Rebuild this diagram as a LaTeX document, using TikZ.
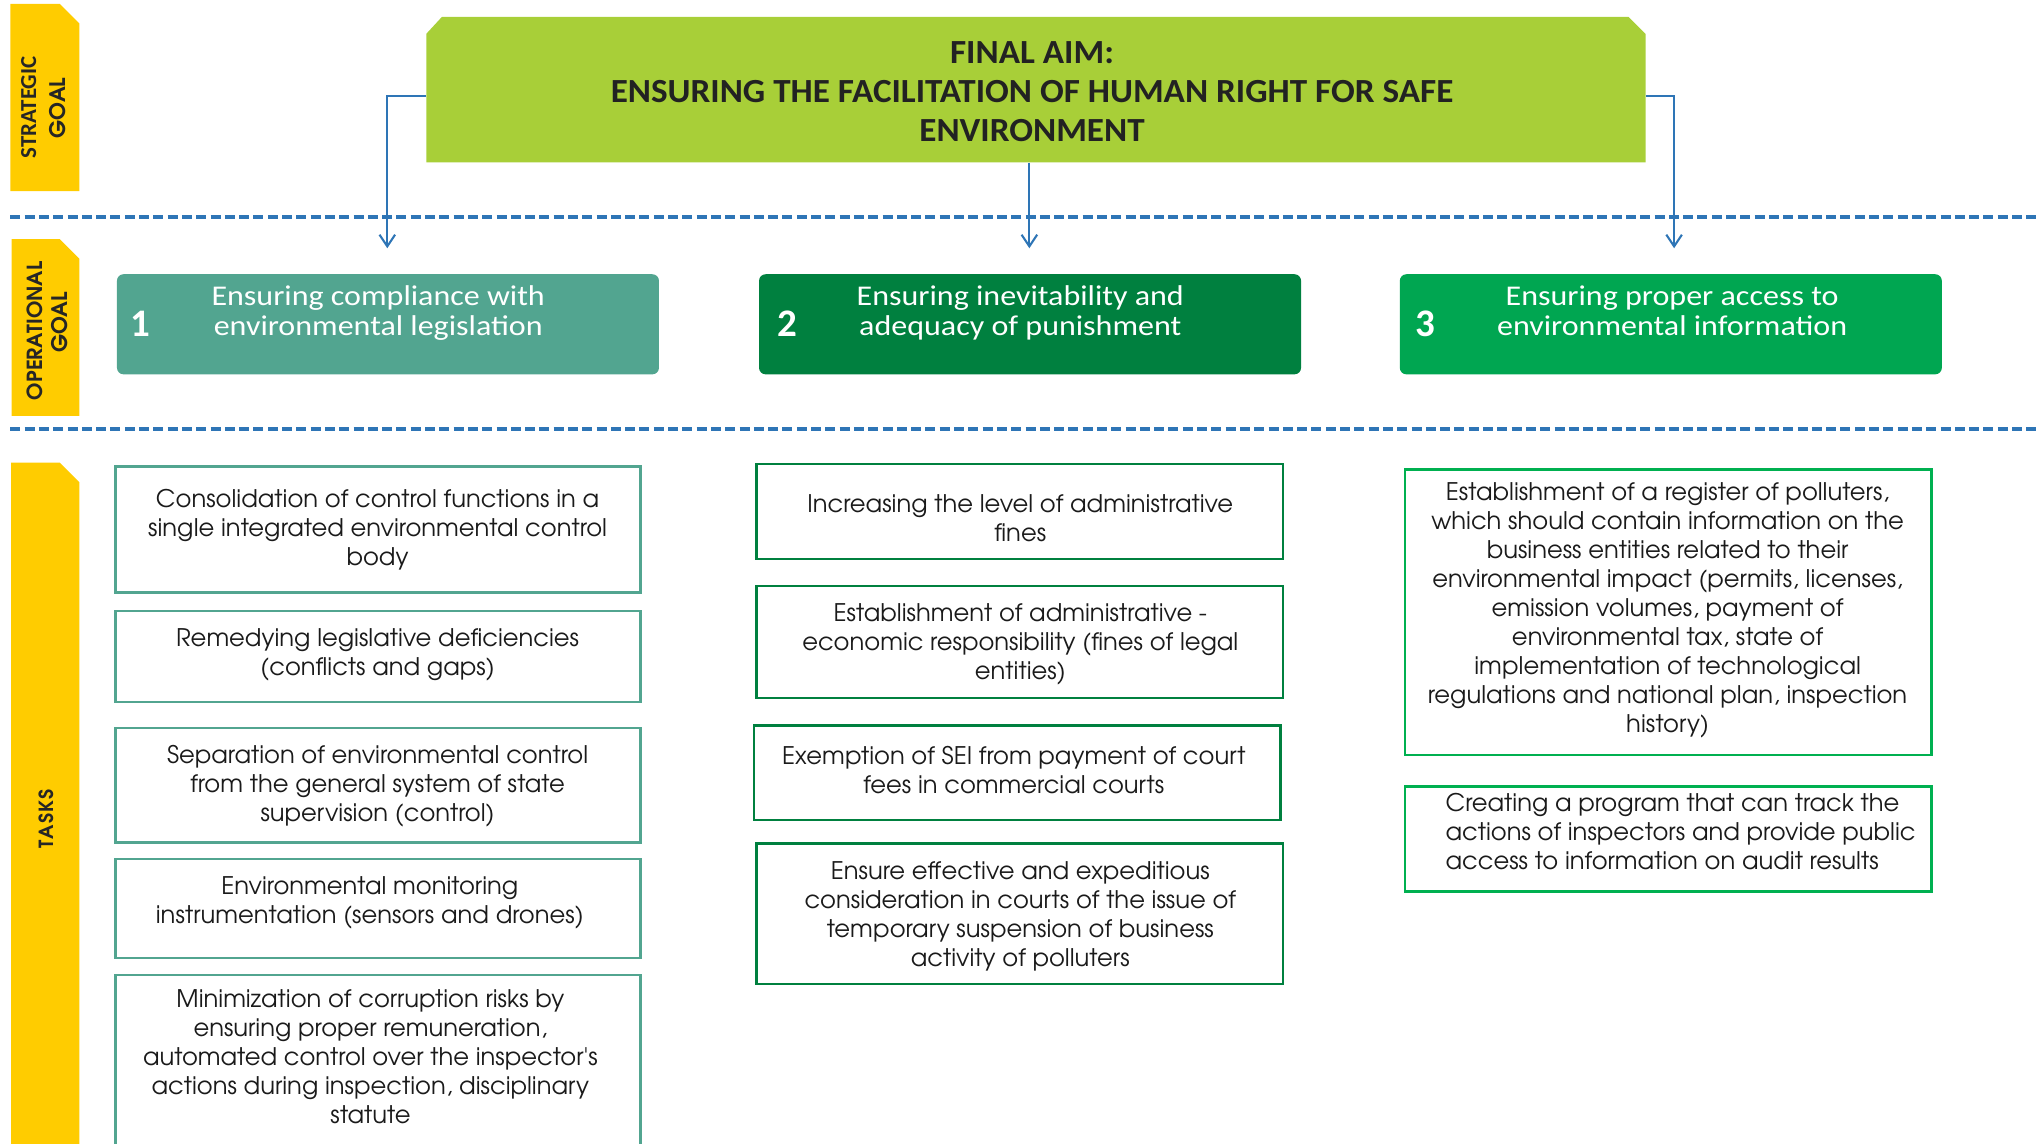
\documentclass[tikz,border=0pt]{standalone}
\usepackage{fontspec}
\usetikzlibrary{arrows.meta,calc}
\newfontfamily\advfont{texgyreadventor}[Extension=.otf,UprightFont=*-regular,BoldFont=*-bold]
\newfontfamily\carlfont{Carlito}
\newfontfamily\carlwide{Carlito}[FakeStretch=1.12]
\newfontfamily\carltitle{Carlito}[FakeStretch=1.04]
\definecolor{tabyellow}{HTML}{FFCC00}
\definecolor{aimgreen}{HTML}{A8CF38}
\definecolor{opteal}{HTML}{52A590}
\definecolor{opdark}{HTML}{00803F}
\definecolor{opbright}{HTML}{00A651}
\definecolor{cthree}{HTML}{00B050}
\definecolor{lineblue}{HTML}{2E75B6}
\definecolor{labeltext}{HTML}{262626}
\definecolor{titletext}{HTML}{222222}
\definecolor{tasktext}{HTML}{1A1A1A}
\begin{document}
\begin{tikzpicture}[x=1pt,y=-1pt,
  tabshape/.style={fill=tabyellow},
  sepline/.style={draw=lineblue,line width=2.5pt,dash pattern=on 7.7pt off 3.3pt},
  conn/.style={draw=lineblue,line width=1.6pt,-{Straight Barb[length=9pt,width=12pt]}},
  opbox/.style={rounded corners=5pt,minimum width=417pt,minimum height=77pt,inner sep=0pt},
  optext/.style={text=white,align=center,inner sep=0pt,font=\carlwide\fontsize{22}{23}\selectfont},
  opnum/.style={text=white,inner sep=0pt,font=\carlfont\bfseries\fontsize{30}{30}\selectfont},
  taskbox/.style={draw,line width=2pt,fill=white,minimum width=404pt,inner sep=0pt},
  tasktext/.style={text=tasktext,align=center,inner sep=0pt,font=\advfont\fontsize{18.65}{22.3}\selectfont},
  tablabel/.style={rotate=90,text=labeltext,inner sep=0pt}
]
\useasboundingbox (0,0) rectangle (1568,880);
\clip (0,0) rectangle (1568,880);

% side tabs
\fill[tabshape] (8,3) -- (46,3) -- (61,18) -- (61,147) -- (8,147) -- cycle;
\fill[tabshape] (9,184) -- (46,184) -- (61,199) -- (61,320) -- (9,320) -- cycle;
\fill[tabshape] (8.5,356) -- (46,356) -- (61,371) -- (61,880) -- (8.5,880) -- cycle;
\node[tablabel,font=\carlfont\bfseries\fontsize{17.6}{17.6}\selectfont] (lstrat) at (22,82.5) {STRATEGIC};
\node[tablabel,font=\advfont\bfseries\fontsize{16.5}{16.5}\selectfont] (lgoalone) at (44.6,83) {GOAL};
\node[tablabel,font=\advfont\bfseries\fontsize{16}{16}\selectfont] (loper) at (26.7,254.5) {OPERATIONAL};
\node[tablabel,font=\advfont\bfseries\fontsize{16.5}{16.5}\selectfont] (lgoaltwo) at (45.5,248) {GOAL};
\node[tablabel,font={\advfont\bfseries\fontsize{15}{15}\selectfont\addfontfeatures{LetterSpace=6}}] (ltasks) at (36,630) {TASKS};

% separators
\draw[sepline] (8,167) -- (1568,167);
\draw[sepline] (8,330) -- (1568,330);

% final aim
\fill[aimgreen] (328,26) -- (340,13) -- (1253,13) -- (1266,26) -- (1266,125) -- (328,125) -- cycle;
\node[minimum width=938pt,minimum height=112pt,inner sep=0pt] (title) at (797,69) {};
\node[text=titletext,align=center,inner sep=0pt,font=\carltitle\bfseries\fontsize{26}{30}\selectfont] (titletext) at (794,73)
  {\strut FINAL AIM:\\ENSURING THE FACILITATION OF HUMAN RIGHT FOR SAFE\\ENVIRONMENT\strut};

% operational goals
\node[opbox,fill=opteal] (opone) at (298.5,249.5) {};
\node[opbox,fill=opdark] (optwo) at (792.5,249.5) {};
\node[opbox,fill=opbright] (opthree) at (1285.5,249.5) {};
\node[opnum] (nOne) at (108,249) {1};
\node[opnum] (nTwo) at (606,249) {2};
\node[opnum] (nThree) at (1097,249) {3};
\node[optext] (topone) at (291,242) {\strut Ensuring compliance with\\environmental legislation\strut};
\node[optext] (toptwo) at (785,242) {\strut Ensuring inevitability and\\adequacy of punishment\strut};
\node[optext] (topthree) at (1286.5,242) {\strut Ensuring proper access to\\environmental information\strut};

% connectors
\coordinate (aone) at (298,191);
\coordinate (atwo) at (792,191);
\coordinate (athree) at (1288,191);
\draw[conn] ([yshift=-5pt]title.west) -| (aone);
\draw[conn] (title.south -| atwo) -- (atwo);
\draw[conn] ([yshift=-5pt]title.east) -| (athree);

% tasks column 1
\node[taskbox,draw=opteal,minimum height=97pt] (cOneA) at (291,407.5) {};
\node[taskbox,draw=opteal,minimum height=70pt] (cOneB) at (291,505) {};
\node[taskbox,draw=opteal,minimum height=88pt] (cOneC) at (291,604) {};
\node[taskbox,draw=opteal,minimum height=76pt] (cOneD) at (291,699) {};
\node[taskbox,draw=opteal,minimum height=150pt] (cOneE) at (291,825) {};
\node[tasktext] (tOneA) at (290.5,408.2) {\strut Consolidation of control functions in a\\single integrated environmental control\\body\strut};
\node[tasktext] (tOneB) at (290.5,503.9) {\strut Remedying legislative deficiencies\\(conflicts and gaps)\strut};
\node[tasktext] (tOneC) at (290.5,605.2) {\strut Separation of environmental control\\from the general system of state\\supervision (control)\strut};
\node[tasktext] (tOneD) at (284.5,694.9) {\strut Environmental monitoring\\instrumentation (sensors and drones)\strut};
\node[tasktext] (tOneE) at (285,815.5) {\strut Minimization of corruption risks by\\ensuring proper remuneration,\\automated control over the inspector's\\actions during inspection, disciplinary\\statute\strut};

% tasks column 2
\node[taskbox,draw=opdark,minimum width=405pt,minimum height=73pt] (cTwoA) at (784.5,393.5) {};
\node[taskbox,draw=opdark,minimum width=405pt,minimum height=86pt] (cTwoB) at (784.5,494) {};
\node[taskbox,draw=opdark,minimum width=405pt,minimum height=73pt] (cTwoC) at (782.5,594.5) {};
\node[taskbox,draw=opdark,minimum width=405pt,minimum height=108pt] (cTwoD) at (784.5,703) {};
\node[tasktext] (tTwoA) at (785,400.9) {\strut Increasing the level of administrative\\fines\strut};
\node[tasktext] (tTwoB) at (785,495.9) {\strut Establishment of administrative -\\economic responsibility (fines of legal\\entities)\strut};
\node[tasktext] (tTwoC) at (780,594.9) {\strut Exemption of SEI from payment of court\\fees in commercial courts\strut};
\node[tasktext] (tTwoD) at (785,705.4) {\strut Ensure effective and expeditious\\consideration in courts of the issue of\\temporary suspension of business\\activity of polluters\strut};

% tasks column 3
\node[taskbox,draw=cthree,minimum width=405pt,minimum height=220pt] (cThreeA) at (1283.5,471) {};
\node[taskbox,draw=cthree,minimum width=405pt,minimum height=81pt] (cThreeB) at (1283.5,645.5) {};
\node[tasktext] (tThreeA) at (1283,470) {\strut Establishment of a register of polluters,\\which should contain information on the\\business entities related to their\\environmental impact (permits, licenses,\\emission volumes, payment of\\environmental tax, state of\\implementation of technological\\regulations and national plan, inspection\\history)\strut};
\node[tasktext,align=left,anchor=west] (tThreeB) at (1112,641.9) {\strut Creating a program that can track the\\actions of inspectors and provide public\\access to information on audit results\strut};
\end{tikzpicture}
\end{document}
